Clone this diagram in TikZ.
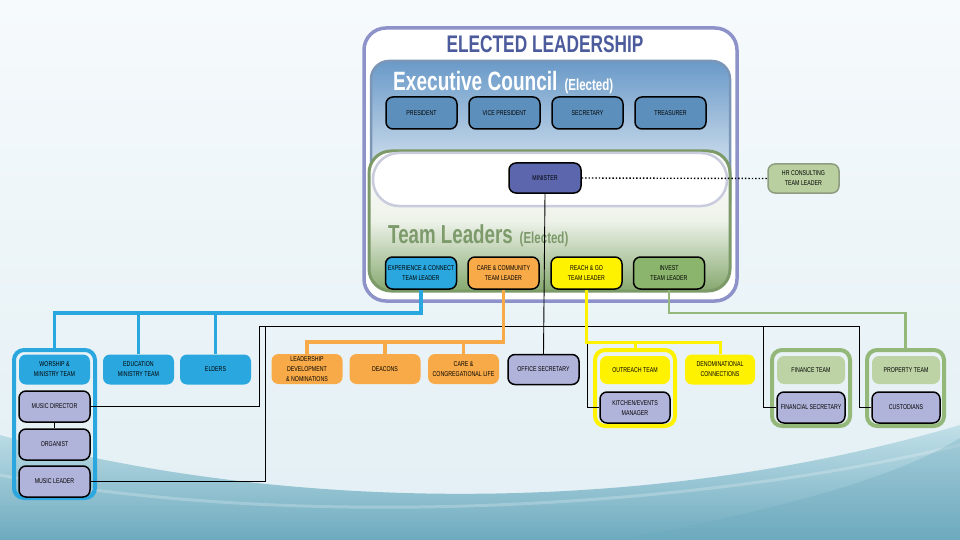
\documentclass[tikz,border=0pt]{standalone}
\usepackage{fontspec}
\setmainfont{Liberation Sans}
\newfontfamily\cond[FakeStretch=0.75]{Liberation Sans}
\newfontfamily\condt[FakeStretch=0.72]{Liberation Sans}
\definecolor{lavbox}{HTML}{B1B4DA}
\definecolor{cyanb}{HTML}{2AA7DF}
\definecolor{orng}{HTML}{F8AA48}
\definecolor{yel}{HTML}{FFF200}
\definecolor{invg}{HTML}{8BB56C}
\definecolor{lgrn}{HTML}{BDD3A5}
\definecolor{hrg}{HTML}{B9CFA0}
\definecolor{hrs}{HTML}{8E9C80}
\definecolor{minb}{HTML}{5B66AC}
\definecolor{execb}{HTML}{5C8FBC}
\definecolor{outerl}{HTML}{8D93C9}
\definecolor{titlec}{HTML}{4B5B9B}
\definecolor{teamc}{HTML}{7D9A6B}
\definecolor{greens}{HTML}{7C9968}
\definecolor{greenf}{HTML}{86A86E}
\definecolor{execs}{HTML}{7C96B8}
\definecolor{execf}{HTML}{6A9AC8}
\definecolor{bandc}{HTML}{C9CCDD}
\definecolor{grpg}{HTML}{93B87A}
\definecolor{bgtop}{HTML}{F6FAFC}
\definecolor{bgmid}{HTML}{E2EFF4}
\definecolor{teal1}{HTML}{C2E0E8}
\definecolor{teal2}{HTML}{6DAABE}
\begin{document}
\begin{tikzpicture}[x=1pt,y=-1pt,
  box/.style={rectangle, rounded corners=7pt, minimum width=71pt, minimum height=30pt,
    inner sep=1pt, align=center, text=black,
    font=\cond\fontsize{7}{10}\selectfont},
  blk/.style={box, draw=black, line width=1.5pt},
  lav/.style={blk, fill=lavbox},
  grp/.style={rectangle, rounded corners=10pt, line width=4pt, inner sep=0pt},
  bigtitle/.style={inner sep=0pt, font=\condt\bfseries},
  bluel/.style={cyanb, line width=3.5pt},
  orl/.style={orng, line width=3.5pt},
  yell/.style={yel, line width=3pt},
  grl/.style={grpg, line width=2.5pt},
  thin/.style={black, line width=0.9pt}
]
\useasboundingbox (0,0) rectangle (960,540);
% background
\shade[top color=bgtop, bottom color=bgmid] (0,0) rectangle (960,540);
\shade[top color=teal1, bottom color=teal2]
  (0,435) .. controls (250,505) and (620,525) .. (960,425) -- (960,540) -- (0,540) -- cycle;
\draw[white, opacity=0.22, line width=3pt]
  (0,475) .. controls (300,532) and (700,508) .. (960,445);
\fill[teal2, opacity=0.3]
  (620,540) .. controls (800,505) and (900,475) .. (960,438) -- (960,540) -- cycle;

% big containers
\draw[outerl, line width=3.5pt, fill=white, rounded corners=22pt] (364,28) rectangle (737,301);
\shade[rounded corners=18pt, top color=execf, bottom color=white] (371,61) rectangle (730,220);
\draw[execs, line width=2.5pt, rounded corners=18pt] (371,61) rectangle (730,220);
\shade[rounded corners=22pt, top color=white, bottom color=greenf, middle color=white!85!greenf]
  (369,151) rectangle (730,291);
\draw[greens, line width=3pt, rounded corners=22pt] (369,151) rectangle (730,291);
\draw[bandc, line width=2.5pt, fill=white, rounded corners=26pt] (373,153) rectangle (727,206);

% titles
\node[bigtitle, text=titlec, font=\condt\bfseries\fontsize{24}{26}\selectfont] (ttl) at (545,44) {ELECTED LEADERSHIP};
\node[bigtitle, text=white, anchor=base west] (exc) at (393,91)
  {\fontsize{26.5}{28}\selectfont Executive Council\hspace{7pt}{\fontsize{16}{18}\selectfont (Elected)}};
\node[bigtitle, text=teamc, anchor=base west] (tml) at (388,243)
  {\fontsize{26}{28}\selectfont Team Leaders\hspace{7pt}{\fontsize{16}{18}\selectfont (Elected)}};

% connector levels
\coordinate (bl) at (0,313);
\coordinate (ol) at (0,342);
\coordinate (gl) at (0,313);
\path (54.5,424) coordinate (wgc) (635,388) coordinate (ogc) (811,388) coordinate (fgc) (905.5,388) coordinate (pgc);

% executive council
\node[blk, fill=execb, minimum height=32pt] (pres) at (421.5,113) {PRESIDENT};
\node[blk, fill=execb, minimum height=32pt] (vp) at (504.5,113) {VICE PRESIDENT};
\node[blk, fill=execb, minimum height=32pt] (sec) at (587.5,113) {SECRETARY};
\node[blk, fill=execb, minimum height=32pt] (tre) at (670.5,113) {TREASURER};

% minister and HR
\node[blk, fill=minb, minimum width=72pt] (min) at (545,178) {MINISTER};
\node[box, draw=hrs, line width=1.5pt, fill=hrg, minimum height=29pt] (hr) at (803.5,178.5) {HR CONSULTING\\TEAM LEADER};

% team leaders
\node[blk, fill=cyanb, minimum height=32pt] (exp) at (421,273) {EXPERIENCE \& CONNECT\\TEAM LEADER};
\node[blk, fill=orng, minimum height=32pt] (care) at (503.5,273) {CARE \& COMMUNITY\\TEAM LEADER};
\node[blk, fill=yel, minimum height=32pt] (reach) at (586.5,273) {REACH \& GO\\TEAM LEADER};
\node[blk, fill=invg, minimum height=32pt] (inv) at (669,273) {INVEST\\TEAM LEADER};

% black connector points
\coordinate (hl) at (259,326);
\coordinate (hl2) at (265,326);
\coordinate (hk) at (587,326);
\coordinate (hf) at (763,326);
\coordinate (hr2) at (859,326);

% group outlines
\node[grp, draw=cyanb, minimum width=81pt, minimum height=148pt] (wgrp) at (wgc) {};
\node[grp, draw=yel, minimum width=80pt, minimum height=76pt] (ogrp) at (ogc) {};
\node[grp, draw=grpg, minimum width=78pt, minimum height=76pt] (fgrp) at (fgc) {};
\node[grp, draw=grpg, minimum width=77pt, minimum height=76pt] (pgrp) at (pgc) {};

% bottom row
\node[box, fill=cyanb] (wor) at (54.5,369.5) {WORSHIP \&\\MINISTRY TEAM};
\node[box, fill=cyanb] (edu) at (138.5,369.5) {EDUCATION\\MINISTRY TEAM};
\node[box, fill=cyanb] (eld) at (215.5,369.5) {ELDERS};
\node[box, fill=orng] (lead) at (307,369) {LEADERSHIP\\DEVELOPMENT\\\& NOMINATIONS};
\node[box, fill=orng] (dea) at (385,369) {DEACONS};
\node[box, fill=orng] (ccl) at (463.5,369) {CARE \&\\CONGREGATIONAL LIFE};
\node[lav] (off) at (543.5,369.5) {OFFICE SECRETARY};
\node[box, fill=yel, minimum width=70pt, minimum height=28pt] (out) at (635,370) {OUTREACH TEAM};
\node[box, fill=yel, minimum width=70pt] (den) at (720,369.5) {DENOMINATIONAL\\CONNECTIONS};
\node[box, fill=lgrn, minimum width=68pt, minimum height=28pt] (fin) at (811,370) {FINANCE TEAM};
\node[box, fill=lgrn, minimum width=68pt, minimum height=28pt] (prop) at (906,370) {PROPERTY TEAM};

\node[lav, minimum height=31pt] (md) at (54.5,406.5) {MUSIC DIRECTOR};
\node[lav, minimum height=31pt] (org) at (54.5,444.5) {ORGANIST};
\node[lav, minimum height=31pt] (ml) at (54.5,481.5) {MUSIC LEADER};
\node[lav, minimum width=70pt, minimum height=31pt] (kit) at (635,407.5) {KITCHEN/EVENTS\\MANAGER};
\node[lav, minimum width=68pt, minimum height=31pt] (fs) at (811,407.5) {FINANCIAL SECRETARY};
\node[lav, minimum width=68pt, minimum height=31pt] (cus) at (906,407.5) {CUSTODIANS};

\draw[thin] (hl) -- (hr2);
\draw[thin] (md.east) -| (hl);
\draw[thin] (ml.east) -| (hl2);
\draw[thin] (kit.west) -| (hk);
\draw[thin] (fs.west) -| (hf);
\draw[thin] (cus.west) -| (hr2);
\draw[thin] (min.south) -- (off.north);
\draw[thin] (md.south) -- (org.north);
\draw[black, dotted, line width=1.4pt] (min.east) -- (hr.west);

% colored connectors
\draw[bluel] (exp.south) |- (wgrp.north |- bl) -- (wgrp.north);
\draw[bluel] (edu.north) -- (edu.north |- bl);
\draw[bluel] (eld.north) -- (eld.north |- bl);
\draw[orl] (care.south) |- (lead.north |- ol) -- (lead.north);
\draw[orl] (dea.north) -- (dea.north |- ol);
\draw[orl] (ccl.north) -- (ccl.north |- ol);
\draw[yell] (reach.south) |- (den.north |- ol) -- (den.north);
\draw[yell] (ogrp.north) -- (ogrp.north |- ol);
\draw[grl] (inv.south) |- (pgrp.north |- gl) -- (pgrp.north);
\end{tikzpicture}
\end{document}
